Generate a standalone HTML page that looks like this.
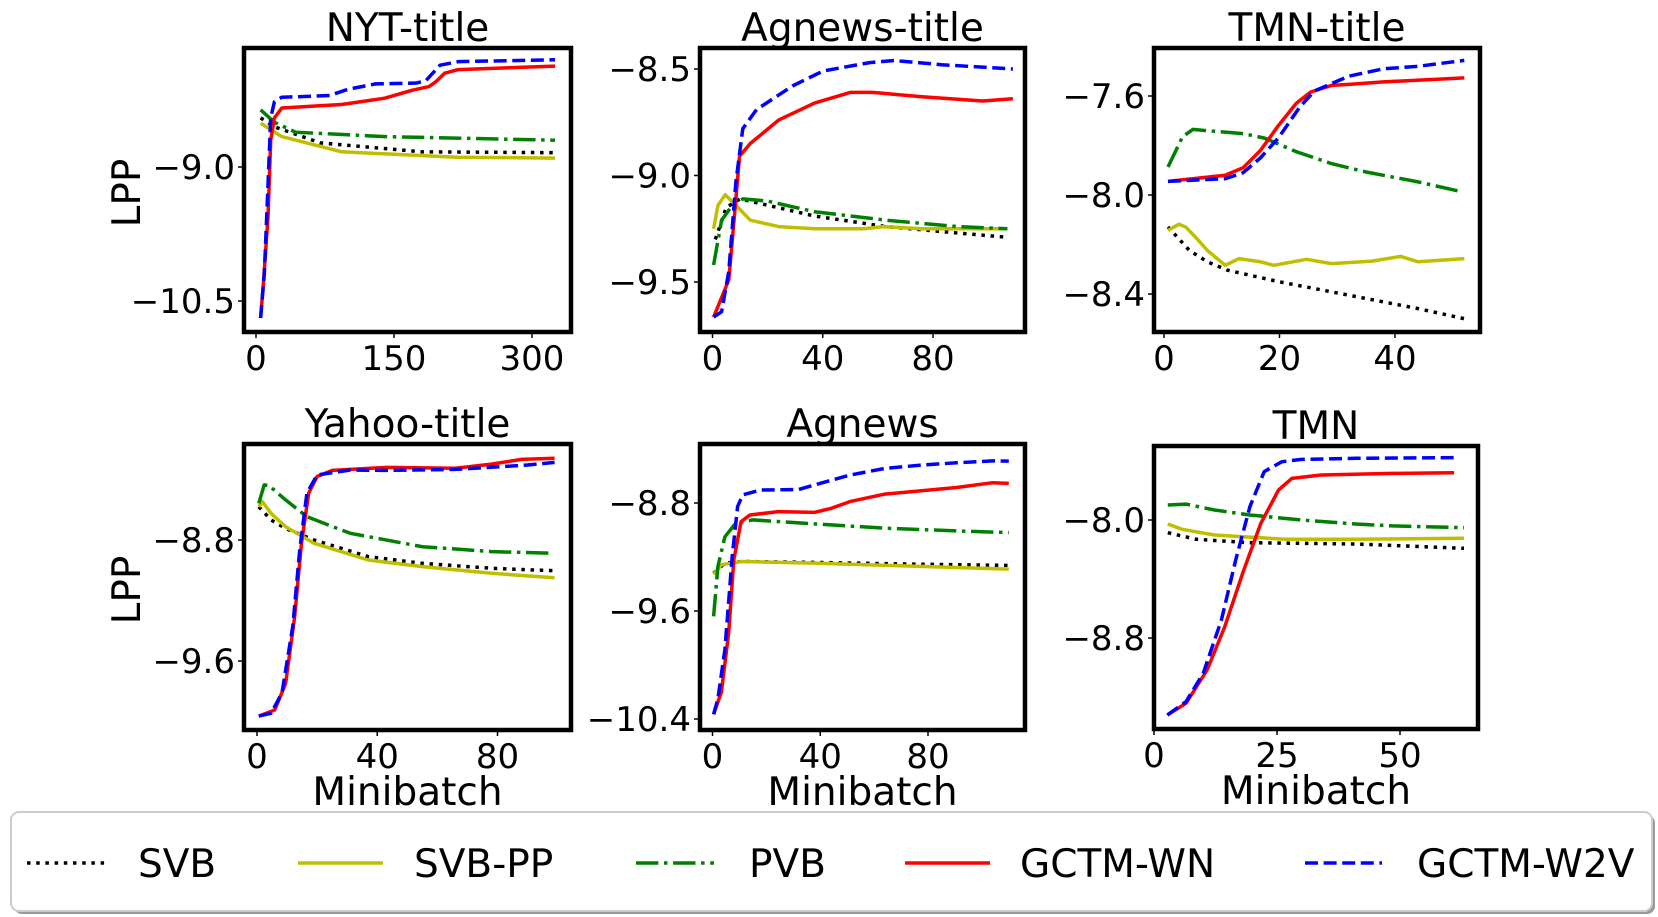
<!DOCTYPE html>
<html><head><meta charset="utf-8">
<style>
html,body{margin:0;padding:0;background:#fff;}
svg{display:block;font-family:"DejaVu Sans","Liberation Sans",sans-serif;}
</style></head>
<body>
<svg id="fig" width="1658" height="917" viewBox="0 0 1658 917" xmlns="http://www.w3.org/2000/svg">
<rect x="0" y="0" width="1658" height="917" fill="#fff"/>
<g id="panels"></g>
<g>
  <rect x="14" y="815" width="1641" height="99" rx="8" fill="#999"/>
  <rect x="11" y="812" width="1641" height="99" rx="8" fill="#fff" stroke="#ccc" stroke-width="2"/>
  <g>
    <line x1="27" y1="863" x2="106" y2="863" stroke="#000" stroke-width="3.5" stroke-dasharray="3.5 5.7"/>
    <text x="138" y="877" font-size="39">SVB</text>
  </g>
  <g>
    <line x1="298" y1="863" x2="383" y2="863" stroke="#bfbf00" stroke-width="3.5"/>
    <text x="414" y="877" font-size="39">SVB-PP</text>
  </g>
  <g>
    <line x1="636" y1="863" x2="714" y2="863" stroke="#008000" stroke-width="3.5" stroke-dasharray="22.4 5.6 3.5 5.6"/>
    <text x="749" y="877" font-size="39">PVB</text>
  </g>
  <g>
    <line x1="905" y1="863" x2="990" y2="863" stroke="#ff0000" stroke-width="3.5"/>
    <text x="1020" y="877" font-size="39">GCTM-WN</text>
  </g>
  <g>
    <line x1="1305" y1="863" x2="1382" y2="863" stroke="#0000ff" stroke-width="3.5" stroke-dasharray="13 5.6"/>
    <text x="1417" y="877" font-size="39">GCTM-W2V</text>
  </g>
</g>
</svg>
<script>
// ---- data ----
const seriesNames = ["SVB","SVB-PP","PVB","GCTM-WN","GCTM-W2V"];
const panelTitles = ["NYT-title","Agnews-title","TMN-title","Yahoo-title","Agnews","TMN"];

// NYT-title
const nytX_svb = [5,20,70,180,325];          const nytY_svb = [-8.45,-8.55,-8.73,-8.83,-8.84];
const nytX_pp  = [5,28,93,218,325];          const nytY_pp  = [-8.51,-8.66,-8.83,-8.89,-8.90];
const nytX_pvb = [5,20,43,140,325];          const nytY_pvb = [-8.36,-8.5,-8.61,-8.66,-8.70];
const nytX_wn  = [5,8,13,16,20,28,60,93,140,170,188,195,205,220,325];
const nytY_wn  = [-10.69,-10.3,-9.56,-8.7,-8.45,-8.34,-8.32,-8.3,-8.23,-8.14,-8.1,-8.05,-7.95,-7.91,-7.87];
const nytX_w2v = [5,9,13,16,20,28,80,100,130,175,185,200,220,325];
const nytY_w2v = [-10.69,-10.2,-9.2,-8.45,-8.27,-8.22,-8.2,-8.13,-8.07,-8.06,-8.03,-7.86,-7.82,-7.8];

// Agnews-title
const agtX_svb = [1,5,10,37,63,89,107];       const agtY_svb = [-9.3,-9.15,-9.11,-9.19,-9.24,-9.27,-9.29];
const agtX_pp  = [0.4,2,4.6,8.5,13.7,24,37,55,62,76,107];
const agtY_pp  = [-9.25,-9.14,-9.09,-9.14,-9.21,-9.24,-9.25,-9.25,-9.24,-9.25,-9.25];
const agtX_pvb = [0.4,3.3,7.2,11,20,37,63,89,107];
const agtY_pvb = [-9.42,-9.21,-9.14,-9.11,-9.12,-9.17,-9.21,-9.24,-9.25];
const agtX_wn  = [0.4,5.9,8.5,9.8,13.7,24,37,50,58,76,98,109];
const agtY_wn  = [-9.665,-9.49,-9.11,-8.91,-8.85,-8.74,-8.66,-8.61,-8.61,-8.63,-8.65,-8.64];
const agtX_w2v = [0.4,3.3,5.9,8.5,11,16,29,40,57,66,83,109];
const agtY_w2v = [-9.665,-9.64,-9.45,-9.03,-8.78,-8.69,-8.58,-8.51,-8.47,-8.46,-8.48,-8.5];

// TMN-title
const tmtX_svb = [0.7,4.4,7.5,11,19.8,32,44,52];
const tmtY_svb = [-8.129,-8.224,-8.27,-8.304,-8.35,-8.405,-8.459,-8.5];
const tmtX_pp  = [0.7,2.6,3.8,5.7,7.5,10.6,13,16.7,19,24.7,29,36,41,44,52];
const tmtY_pp  = [-8.143,-8.118,-8.13,-8.176,-8.224,-8.284,-8.257,-8.27,-8.284,-8.26,-8.277,-8.267,-8.248,-8.27,-8.257];
const tmtX_pvb = [0.7,3.2,5,7.5,13.7,17.4,23,29,35,44,51];
const tmtY_pvb = [-7.887,-7.765,-7.735,-7.74,-7.752,-7.77,-7.826,-7.873,-7.907,-7.947,-7.984];
const tmtX_wn  = [0.7,10.6,13.7,16.7,19.8,22.9,25.4,29,32,38,52];
const tmtY_wn  = [-7.945,-7.92,-7.89,-7.82,-7.72,-7.63,-7.584,-7.557,-7.553,-7.543,-7.527];
const tmtX_w2v = [0.7,10.6,13.7,16.7,19.8,23.5,26,32,38,44,52];
const tmtY_w2v = [-7.945,-7.934,-7.91,-7.85,-7.77,-7.645,-7.58,-7.52,-7.49,-7.48,-7.456];

// Yahoo-title
const yahX_svb = [0.6,4.7,9.5,19,37,55,78,98.5];
const yahY_svb = [-8.58,-8.668,-8.723,-8.8,-8.91,-8.954,-8.987,-9.003];
const yahX_pp  = [0.6,1.8,4.7,9.5,19,37,55,78,99];
const yahY_pp  = [-8.58,-8.547,-8.624,-8.712,-8.822,-8.932,-8.976,-9.02,-9.05];
const yahX_pvb = [0.6,2.4,4,9.5,16.6,31,55,78,98.5];
const yahY_pvb = [-8.558,-8.436,-8.44,-8.535,-8.646,-8.756,-8.844,-8.877,-8.888];
const yahX_wn  = [0.6,5.9,9.5,12.5,14.8,17.2,20,25,43,66,78,88,99];
const yahY_wn  = [-9.964,-9.924,-9.75,-9.31,-8.82,-8.49,-8.38,-8.34,-8.32,-8.326,-8.298,-8.267,-8.26];
const yahX_w2v = [0.6,4.7,8.3,11.9,14.2,16.6,20,31,43,66,90,99];
const yahY_w2v = [-9.964,-9.946,-9.81,-9.37,-8.866,-8.49,-8.37,-8.337,-8.34,-8.333,-8.304,-8.287];

// Agnews
const agnX_svb = [0.4,4.6,11,37.7,77,110];     const agnY_svb = [-9.32,-9.245,-9.233,-9.24,-9.253,-9.262];
const agnX_pp  = [0.4,3.3,11,37.7,77,110];     const agnY_pp  = [-9.33,-9.258,-9.233,-9.245,-9.27,-9.29];
const agnX_pvb = [0.4,2,4.6,8.6,15,37.7,64,90.6,110];
const agnY_pvb = [-9.64,-9.27,-9.05,-8.95,-8.925,-8.955,-8.987,-9.007,-9.019];
const agnX_wn  = [0.4,3.3,6,7.9,10.6,13.9,24.5,37.7,44,51,64,90.6,104,110];
const agnY_wn  = [-10.365,-10.2,-9.76,-9.22,-8.938,-8.889,-8.864,-8.87,-8.84,-8.79,-8.734,-8.685,-8.65,-8.655];
const agnX_w2v = [0.4,2,4.6,7.3,9.3,11.2,17.9,32,37.7,51,64,77,90.6,104,110];
const agnY_w2v = [-10.365,-10.25,-9.885,-9.196,-8.827,-8.74,-8.704,-8.7,-8.667,-8.593,-8.544,-8.52,-8.502,-8.488,-8.49];

// TMN
const tmnX_svb = [2.8,8.6,19.5,41,63];         const tmnY_svb = [-8.086,-8.131,-8.154,-8.163,-8.192];
const tmnX_pp  = [2.8,5.7,12.3,26.8,41,63];    const tmnY_pp  = [-8.027,-8.063,-8.102,-8.131,-8.131,-8.124];
const tmnX_pvb = [2.8,6.5,12.3,19.5,30,41,48.5,63];
const tmnY_pvb = [-7.898,-7.892,-7.932,-7.966,-8.0,-8.027,-8.04,-8.052];
const tmnX_wn  = [2.7,6.5,10.8,14.4,18,21.7,25.3,28,34,48.5,61];
const tmnY_wn  = [-9.322,-9.243,-9.017,-8.723,-8.362,-8.023,-7.797,-7.718,-7.695,-7.684,-7.679];
const tmnX_w2v = [2.7,6.5,10,13.7,16.6,19.5,22.4,26,30,41,61];
const tmnY_w2v = [-9.322,-9.232,-9.04,-8.678,-8.271,-7.91,-7.672,-7.605,-7.589,-7.582,-7.577];

// tick labels
const nytXTicks = [0,150,300];  const nytYTicks = [-9.0,-10.5];   const nytYLabels = ["\u22129.0","\u221210.5"];
const agtXTicks = [0,40,80];    const agtYTicks = [-8.5,-9.0,-9.5]; const agtYLabels = ["\u22128.5","\u22129.0","\u22129.5"];
const tmtXTicks = [0,20,40];    const tmtYTicks = [-7.6,-8.0,-8.4]; const tmtYLabels = ["\u22127.6","\u22128.0","\u22128.4"];
const yahXTicks = [0,40,80];    const yahYTicks = [-8.8,-9.6];    const yahYLabels = ["\u22128.8","\u22129.6"];
const agnXTicks = [0,40,80];    const agnYTicks = [-8.8,-9.6,-10.4]; const agnYLabels = ["\u22128.8","\u22129.6","\u221210.4"];
const tmnXTicks = [0,25,50];    const tmnYTicks = [-8.0,-8.8];    const tmnYLabels = ["\u22128.0","\u22128.8"];

// ---- layout ----
const styles = [
  {c:"#000000", d:"3.5 5.7", key:"svb"},
  {c:"#bfbf00", d:"", key:"svb-pp"},
  {c:"#008000", d:"22.4 5.6 3.5 5.6", key:"pvb"},
  {c:"#ff0000", d:"", key:"gctm-wn"},
  {c:"#0000ff", d:"13 5.6", key:"gctm-w2v"}
];
const panels = [
  {title:panelTitles[0], f:[244,48,571,332], xc:[0,256,300,532], yc:[-9.0,167,-10.5,301],
   xt:nytXTicks, yt:nytYTicks, yl:nytYLabels, lpp:true, mb:false,
   s:[[nytX_svb,nytY_svb],[nytX_pp,nytY_pp],[nytX_pvb,nytY_pvb],[nytX_wn,nytY_wn],[nytX_w2v,nytY_w2v]]},
  {title:panelTitles[1], f:[700,48,1025,332], xc:[0,712.5,80,933], yc:[-8.5,69,-9.5,282],
   xt:agtXTicks, yt:agtYTicks, yl:agtYLabels, lpp:false, mb:false,
   s:[[agtX_svb,agtY_svb],[agtX_pp,agtY_pp],[agtX_pvb,agtY_pvb],[agtX_wn,agtY_wn],[agtX_w2v,agtY_w2v]]},
  {title:panelTitles[2], f:[1154,48,1480,332], xc:[0,1164,40,1395], yc:[-7.6,96,-8.4,294],
   xt:tmtXTicks, yt:tmtYTicks, yl:tmtYLabels, lpp:false, mb:false,
   s:[[tmtX_svb,tmtY_svb],[tmtX_pp,tmtY_pp],[tmtX_pvb,tmtY_pvb],[tmtX_wn,tmtY_wn],[tmtX_w2v,tmtY_w2v]]},
  {title:panelTitles[3], f:[244,444,571,730], xc:[0,257,80,497.5], yc:[-8.8,540,-9.6,661],
   xt:yahXTicks, yt:yahYTicks, yl:yahYLabels, lpp:true, mb:true,
   s:[[yahX_svb,yahY_svb],[yahX_pp,yahY_pp],[yahX_pvb,yahY_pvb],[yahX_wn,yahY_wn],[yahX_w2v,yahY_w2v]]},
  {title:panelTitles[4], f:[700,444,1025,730], xc:[0,712.5,80,928], yc:[-8.8,503,-10.4,719],
   xt:agnXTicks, yt:agnYTicks, yl:agnYLabels, lpp:false, mb:true,
   s:[[agnX_svb,agnY_svb],[agnX_pp,agnY_pp],[agnX_pvb,agnY_pvb],[agnX_wn,agnY_wn],[agnX_w2v,agnY_w2v]]},
  {title:panelTitles[5], f:[1154,446,1478,729], xc:[0,1154,50,1400], yc:[-8.0,520,-8.8,638],
   xt:tmnXTicks, yt:tmnYTicks, yl:tmnYLabels, lpp:false, mb:true,
   s:[[tmnX_svb,tmnY_svb],[tmnX_pp,tmnY_pp],[tmnX_pvb,tmnY_pvb],[tmnX_wn,tmnY_wn],[tmnX_w2v,tmnY_w2v]]}
];

const NS = "http://www.w3.org/2000/svg";
function mk(tag, attrs, parent){
  const e = document.createElementNS(NS, tag);
  for (const k in attrs) e.setAttribute(k, attrs[k]);
  if (parent) parent.appendChild(e);
  return e;
}
function lin(c){ const k=(c[3]-c[1])/(c[2]-c[0]); return v => c[1] + (v-c[0])*k; }

const root = document.getElementById("panels");
panels.forEach((p, pi) => {
  const slug = p.title.toLowerCase();
  const g = mk("g", {}, root);
  
  
  const sx = lin(p.xc), sy = lin(p.yc);
  const [l,t,r,b] = p.f;
  const clipId = "clip" + pi;
  const cp = mk("clipPath", {id:clipId}, g);
  mk("rect", {x:l, y:t, width:r-l, height:b-t}, cp);

  p.s.forEach((sr, si) => {
    const xs = sr[0], ys = sr[1];
    const pts = xs.map((x,i) => sx(x).toFixed(1) + "," + sy(ys[i]).toFixed(1)).join(" ");
    const pl = mk("polyline", {points:pts, fill:"none", stroke:styles[si].c, "stroke-width":3.5,
      "stroke-linejoin":"round", "clip-path":"url(#"+clipId+")"}, g);
    if (styles[si].d) pl.setAttribute("stroke-dasharray", styles[si].d);
    
    
  });

  const fr = mk("rect", {x:l, y:t, width:r-l, height:b-t, fill:"none", stroke:"#000", "stroke-width":4.5}, g);
  
  

  p.xt.forEach(v => {
    const x = sx(v);
    const tk = mk("line", {x1:x, y1:b, x2:x, y2:b+6, stroke:"#000", "stroke-width":1.5}, g);
    
    
    const tx = mk("text", {x:x, y:b+38, "font-size":34, "text-anchor":"middle"}, g);
    tx.textContent = String(v);
    
    
  });
  p.yt.forEach((v, i) => {
    const y = sy(v);
    const tk = mk("line", {x1:l-6, y1:y, x2:l, y2:y, stroke:"#000", "stroke-width":1.5}, g);
    
    
    const tx = mk("text", {x:l-9, y:y+12, "font-size":34, "text-anchor":"end"}, g);
    tx.textContent = p.yl[i];
    
    
  });
  const tt = mk("text", {x:(l+r)/2, y:t-7, "font-size":39, "text-anchor":"middle"}, g);
  tt.textContent = p.title;
  
  
  if (p.lpp) {
    const cy = (t+b)/2 + 3;
    const yl = mk("text", {x:0, y:0, "font-size":39, "text-anchor":"middle",
      transform:"translate(140," + cy + ") rotate(-90)"}, g);
    yl.textContent = "LPP";
    
    
  }
  if (p.mb) {
    const xl = mk("text", {x:(l+r)/2, y:b+75, "font-size":39, "text-anchor":"middle"}, g);
    xl.textContent = "Minibatch";
    
    
  }
});
</script>
</body></html>
